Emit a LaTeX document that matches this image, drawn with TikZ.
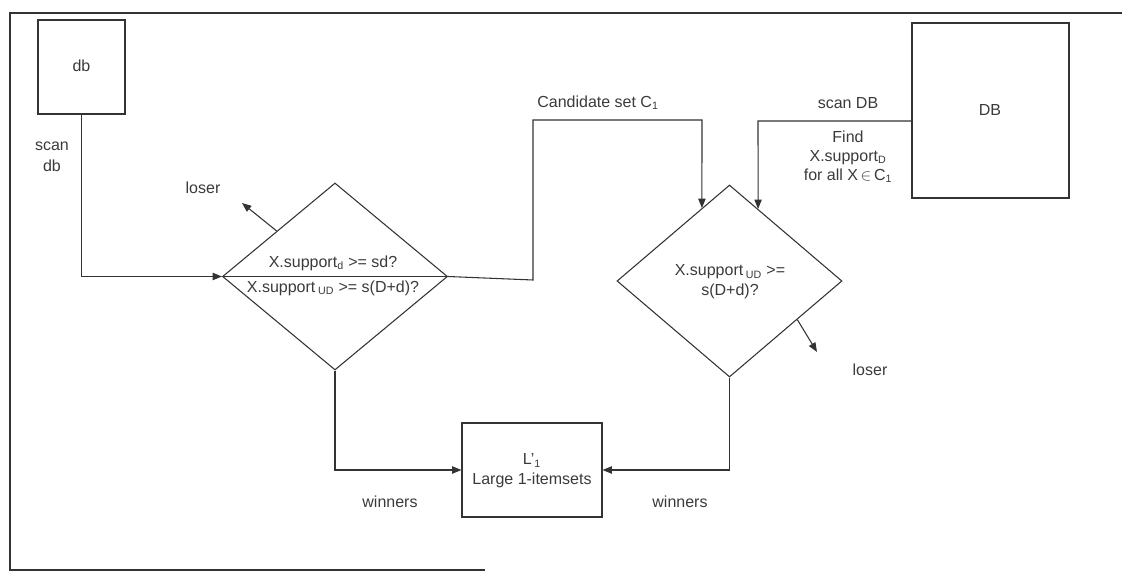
\documentclass[tikz,border=0pt]{standalone}
\usepackage{fontspec}
\setmainfont{Liberation Sans}
\usetikzlibrary{arrows.meta,shapes.geometric,calc}
\definecolor{ink}{HTML}{333333}
\definecolor{txt}{HTML}{3A3A3A}
\begin{document}
\begin{tikzpicture}[x=0.75pt,y=-0.75pt,
  line width=0.8pt, draw=ink,
  every node/.style={font=\fontsize{12}{14.5}\selectfont, text=txt},
  box/.style={draw=ink, rectangle, inner sep=0pt},
  dia/.style={draw=ink, diamond, inner sep=0pt, minimum width=168.75pt},
  arr/.style={draw=ink, -{Triangle[length=7pt,width=5.5pt]}},
  lbl/.style={align=center, inner sep=0pt}]
\useasboundingbox (0,0) rectangle (1122,574);
% outer frame (partly faded in the scan)
\draw[ink] (1122,13) -- (10,13) -- (10,570) -- (485,570);
% boxes
\node[box, minimum width=65.25pt, minimum height=70.5pt] (db) at (81.5,67) {};
\node[lbl] at (81.5,66) {db};
\node[box, minimum width=117.75pt, minimum height=131.25pt] (DB) at (990.5,110.5) {};
\node[lbl] at (990,110) {DB};
\node[box, minimum width=105pt, minimum height=70.5pt] (L) at (532,470) {};
\node[lbl] (Ltxt) at (532,471) {L'\textsubscript{1}\\[0.5pt]Large 1-itemsets};
% diamonds
\node[dia, minimum height=140.25pt] (d1) at (335,276.5) {};
\node[dia, minimum height=144pt] (d2) at (729.5,281) {};
\draw[ink] (d1.west) -- (d1.east);
\node[lbl] at (333,263) {X.support\textsubscript{d} >= sd?};
\node[lbl] at (333,288) {X.support\,\textsubscript{UD} >= s(D+d)?};
\node[lbl, font=\fontsize{12}{15}\selectfont] at (730,282) {X.support\,\textsubscript{UD} >=\\s(D+d)?};
% connectors
\draw[arr] (db.south) |- (d1.west);
\node[lbl, font=\fontsize{12}{15.5}\selectfont] at (52,157) {scan\\db};
\coordinate (c1) at (533,280);
\coordinate (c2) at (533,120);
\coordinate (c3) at (702,120);
\draw[arr] (d1.east) -- (c1) -- (c2) -- (c3) -- ($(d2.north)!0.244!(d2.west)$);
\node[lbl] at (598,103) {Candidate set C\textsubscript{1}};
\coordinate (c4) at (758,121);
\draw[arr] ($(DB.west)+(0,10.5)$) -- (c4) -- ($(d2.north)!0.253!(d2.east)$);
\node[lbl] at (848,103) {scan DB};
\node[lbl, font=\fontsize{12}{14}\selectfont] at (848,157) {Find\\X.support\textsubscript{D}\\for all X\,$\in$\,C\textsubscript{1}};
% losers
\coordinate (l1) at (242,203);
\draw[arr] ($(d1.north)!0.516!(d1.west)$) -- (l1);
\node[lbl] at (203,188) {loser};
\coordinate (l2) at (817,352);
\draw[arr] ($(d2.east)!0.4!(d2.south)$) -- (l2);
\node[lbl] at (870,370) {loser};
% winners
\draw[arr] (d1.south) |- (L.west);
\draw[arr] (d2.south) |- (L.east);
\node[lbl] at (390,502) {winners};
\node[lbl] at (680,502) {winners};
\end{tikzpicture}
\end{document}
